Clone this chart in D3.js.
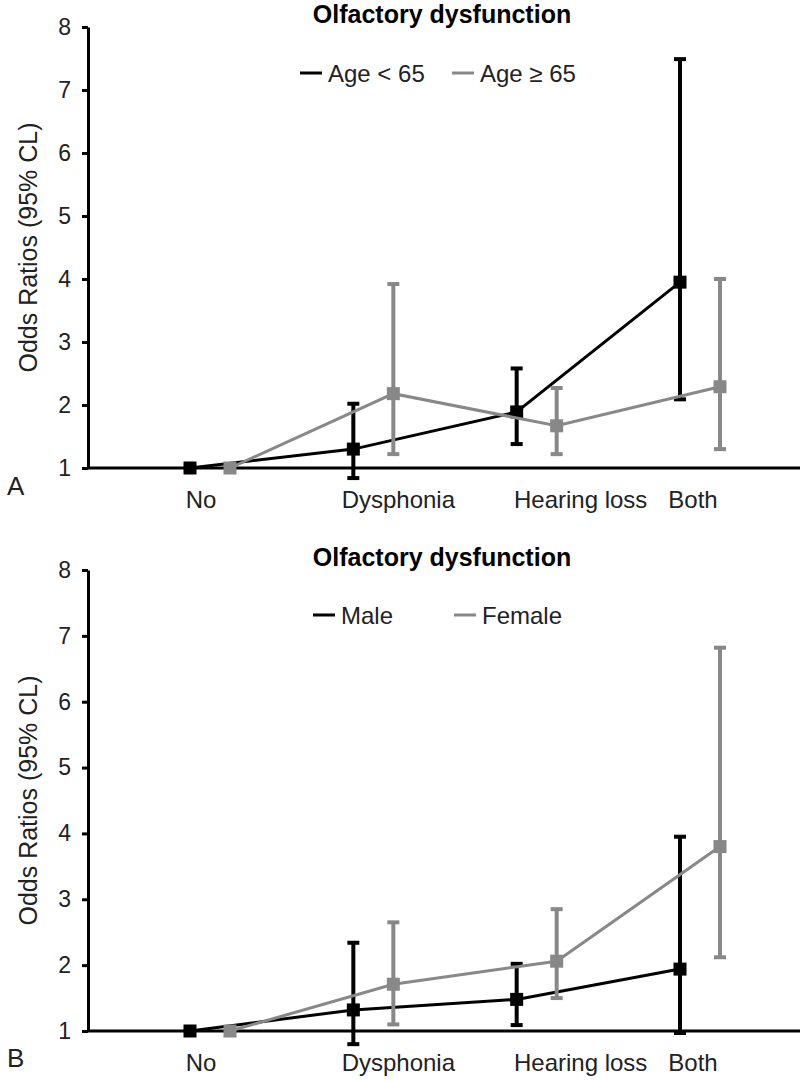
<!DOCTYPE html>
<html>
<head>
<meta charset="utf-8">
<script src="https://cdn.jsdelivr.net/npm/d3@7"></script>
<style>
  body { margin: 0; background: #fff; }
  svg { display: block; font-family: "Liberation Sans", Arial, sans-serif; }
</style>
</head>
<body>
<svg id="chart" width="800" height="1081"></svg>
<script>
// categories and tick values
var categories = ['No', 'Dysphonia', 'Hearing loss', 'Both'];
var yTicks = [1, 2, 3, 4, 5, 6, 7, 8];

// panel A : age groups
var ageUnder65    = [1.00, 1.30, 1.89, 3.95];
var ageUnder65Lo  = [1.00, 0.84, 1.38, 2.09];
var ageUnder65Hi  = [1.00, 2.02, 2.58, 7.49];
var ageOver65     = [1.00, 2.18, 1.67, 2.29];
var ageOver65Lo   = [1.00, 1.22, 1.22, 1.30];
var ageOver65Hi   = [1.00, 3.92, 2.27, 4.00];

// panel B : sex
var male     = [1.00, 1.32, 1.48, 1.94];
var maleLo   = [1.00, 0.80, 1.09, 0.97];
var maleHi   = [1.00, 2.34, 2.02, 3.95];
var female   = [1.00, 1.71, 2.06, 3.80];
var femaleLo = [1.00, 1.10, 1.50, 2.12];
var femaleHi = [1.00, 2.65, 2.85, 6.82];

var BLACK = '#000', GREY = '#888';
var labelNudge = [-9, 25, 44, -7];   // the source labels sit a bit off centre

var svg = d3.select('#chart');
var axisX = 88;

var x = d3.scalePoint().domain(categories).range([210, 700]);

function drawPanel(p) {
  var g = svg.append('g');
  var y = d3.scaleLinear().domain([1, 8]).range([p.bottom, p.top]);

  // title
  g.append('text')
    .attr('x', 442).attr('y', p.top - 4)
    .attr('text-anchor', 'middle')
    .style('font-size', '25px').style('font-weight', 'bold')
    .text('Olfactory dysfunction');

  // y axis
  var yAxis = g.append('g')
    .attr('transform', 'translate(' + axisX + ',0)')
    .call(d3.axisLeft(y).tickValues(yTicks).tickFormat(d3.format('d'))
      .tickSize(6).tickSizeOuter(0).tickPadding(11));
  yAxis.select('.domain').attr('stroke', '#000').attr('stroke-width', 3);
  yAxis.selectAll('.tick line').attr('stroke', '#000').attr('stroke-width', 3);
  yAxis.selectAll('.tick text')
    .style('font-size', '23px').style('font-family', '"Liberation Sans", Arial, sans-serif')
    .attr('fill', '#222');

  // y axis title
  g.append('text')
    .attr('transform', 'translate(37,' + ((p.top + p.bottom) / 2) + ') rotate(-90)')
    .attr('text-anchor', 'middle')
    .style('font-size', '25px').attr('fill', '#222')
    .text('Odds Ratios (95% CL)');

  // x axis line
  g.append('line')
    .attr('x1', axisX - 1).attr('x2', 800)
    .attr('y1', y(1)).attr('y2', y(1))
    .attr('stroke', '#000').attr('stroke-width', 3);

  // category labels
  g.selectAll('.cat').data(categories).enter().append('text')
    .attr('class', 'cat')
    .attr('x', function(d, i){ return x(d) + labelNudge[i]; })
    .attr('y', y(1) + 40)
    .attr('text-anchor', 'middle')
    .style('font-size', '24px').attr('fill', '#222')
    .text(function(d){ return d; });

  // panel letter
  g.append('text')
    .attr('x', 7).attr('y', y(1) + p.letterDy)
    .style('font-size', '26px').attr('fill', '#222')
    .text(p.letter);

  // legend
  p.series.forEach(function(s, k){
    var lx = p.legendX[k];
    g.append('line')
      .attr('x1', lx).attr('x2', lx + 22)
      .attr('y1', p.legendY - 9).attr('y2', p.legendY - 9)
      .attr('stroke', s.color).attr('stroke-width', 3);
    g.append('text')
      .attr('x', lx + 28).attr('y', p.legendY)
      .style('font-size', '24px').attr('fill', '#222')
      .text(s.name);
  });

  // series
  var line = d3.line()
    .x(function(d){ return d.x; })
    .y(function(d){ return y(d.v); });

  p.series.forEach(function(s){
    var pts = categories.map(function(c, i){
      return { x: x(c) + s.offset, v: s.values[i], lo: s.lo[i], hi: s.hi[i] };
    });
    var sg = g.append('g');

    // error bars
    var eb = sg.selectAll('.err').data(pts.filter(function(d){ return d.hi > d.lo; }))
      .enter().append('g');
    eb.append('line')
      .attr('x1', function(d){ return d.x; }).attr('x2', function(d){ return d.x; })
      .attr('y1', function(d){ return y(d.lo); }).attr('y2', function(d){ return y(d.hi); })
      .attr('stroke', s.color).attr('stroke-width', 4);
    ['lo', 'hi'].forEach(function(k){
      eb.append('line')
        .attr('x1', function(d){ return d.x - 6; }).attr('x2', function(d){ return d.x + 6; })
        .attr('y1', function(d){ return y(d[k]); }).attr('y2', function(d){ return y(d[k]); })
        .attr('stroke', s.color).attr('stroke-width', 4);
    });

    sg.append('path')
      .datum(pts)
      .attr('d', line)
      .attr('fill', 'none')
      .attr('stroke', s.color).attr('stroke-width', 3);

    sg.selectAll('.mk').data(pts).enter().append('rect')
      .attr('x', function(d){ return d.x - 6.5; })
      .attr('y', function(d){ return y(d.v) - 6.5; })
      .attr('width', 13).attr('height', 13)
      .attr('fill', s.color);
  });
}

drawPanel({
  letter: 'A', top: 27, bottom: 468, legendX: [300, 452], legendY: 82, letterDy: 27,
  series: [
    { name: 'Age < 65', color: BLACK, offset: -20, values: ageUnder65, lo: ageUnder65Lo, hi: ageUnder65Hi },
    { name: 'Age \u2265 65', color: GREY, offset: 20, values: ageOver65, lo: ageOver65Lo, hi: ageOver65Hi }
  ]
});

drawPanel({
  letter: 'B', top: 570, bottom: 1031, legendX: [313, 454], legendY: 624, letterDy: 36,
  series: [
    { name: 'Male', color: BLACK, offset: -20, values: male, lo: maleLo, hi: maleHi },
    { name: 'Female', color: GREY, offset: 20, values: female, lo: femaleLo, hi: femaleHi }
  ]
});
</script>
</body>
</html>
